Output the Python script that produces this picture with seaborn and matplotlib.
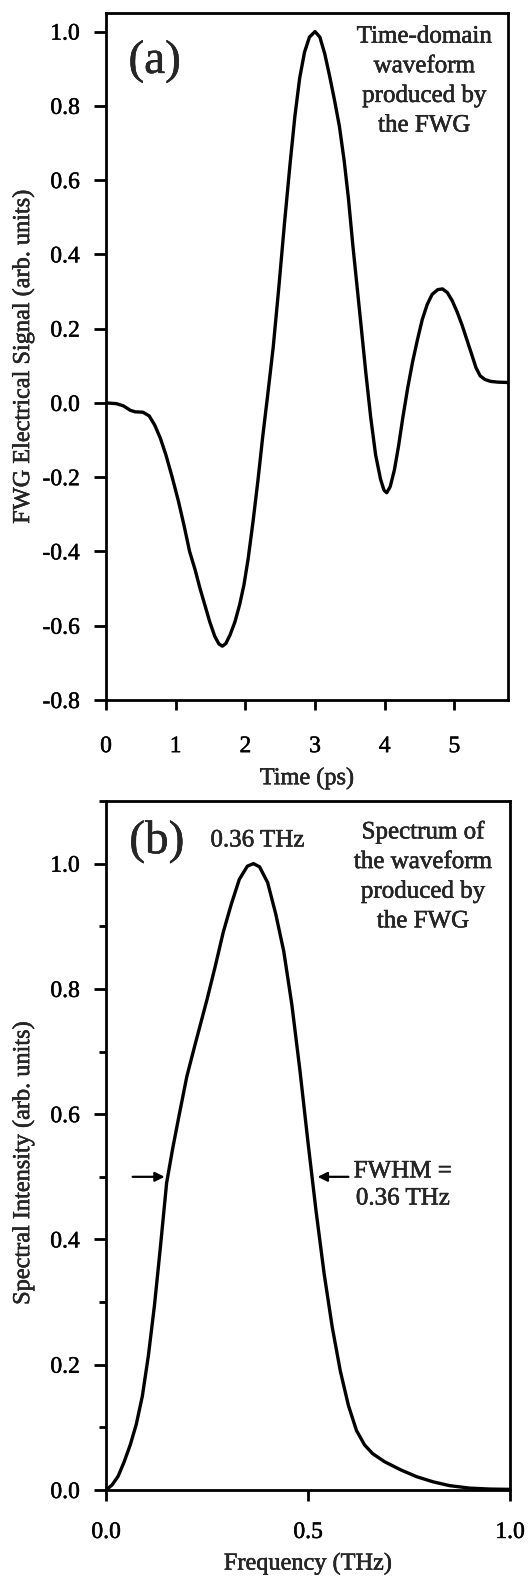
import matplotlib
matplotlib.use("Agg")
import matplotlib.pyplot as plt
import matplotlib.patheffects as pe
from matplotlib.text import Text
import seaborn as sns
import pandas as pd
from matplotlib.ticker import MultipleLocator, FormatStrFormatter

# (a) time-domain waveform produced by the FWG
time_ps = [0.0, 0.15, 0.25, 0.35, 0.42, 0.53, 0.62, 0.70, 0.78, 0.86, 0.95, 1.04,
           1.12, 1.20, 1.28, 1.35, 1.42, 1.49, 1.56, 1.62, 1.67, 1.72, 1.78, 1.85,
           1.92, 1.98, 2.04, 2.11, 2.18, 2.25, 2.32, 2.40, 2.48, 2.56, 2.64, 2.71,
           2.78, 2.85, 2.92, 3.0, 3.07, 3.14, 3.21, 3.28, 3.35, 3.42, 3.48, 3.54,
           3.60, 3.66, 3.73, 3.80, 3.87, 3.94, 3.99, 4.03, 4.08, 4.14, 4.20, 4.26,
           4.33, 4.40, 4.47, 4.54, 4.61, 4.68, 4.76, 4.83, 4.90, 4.97, 5.04, 5.11,
           5.18, 5.25, 5.31, 5.37, 5.44, 5.52, 5.62, 5.77]
signal = [0.0, -0.002, -0.008, -0.02, -0.024, -0.025, -0.035, -0.06, -0.095, -0.14,
          -0.20, -0.265, -0.33, -0.40, -0.45, -0.50, -0.545, -0.59, -0.628, -0.649,
          -0.655, -0.648, -0.625, -0.59, -0.542, -0.49, -0.42, -0.32, -0.21, -0.09,
          0.02, 0.15, 0.31, 0.48, 0.64, 0.77, 0.875, 0.945, 0.985, 1.0, 0.985, 0.94,
          0.88, 0.815, 0.745, 0.65, 0.55, 0.43, 0.32, 0.21, 0.08, -0.04, -0.14,
          -0.205, -0.235, -0.242, -0.225, -0.18, -0.115, -0.04, 0.04, 0.11, 0.17,
          0.225, 0.265, 0.292, 0.305, 0.307, 0.297, 0.275, 0.245, 0.21, 0.17, 0.13,
          0.095, 0.073, 0.063, 0.058, 0.056, 0.055]

# (b) spectrum of the waveform
freq_thz = [0.0, 0.015, 0.03, 0.045, 0.06, 0.075, 0.09, 0.105, 0.12, 0.135, 0.15,
            0.165, 0.18, 0.20, 0.22, 0.25, 0.27, 0.29, 0.31, 0.33, 0.35, 0.365,
            0.38, 0.40, 0.42, 0.44, 0.46, 0.48, 0.50, 0.52, 0.54, 0.56, 0.58, 0.60,
            0.62, 0.64, 0.66, 0.69, 0.73, 0.77, 0.81, 0.85, 0.90, 0.95, 1.0]
intensity = [0.0, 0.008, 0.022, 0.045, 0.072, 0.105, 0.15, 0.215, 0.295, 0.39,
             0.49, 0.545, 0.595, 0.66, 0.71, 0.783, 0.835, 0.89, 0.935, 0.975,
             0.996, 1.0, 0.995, 0.97, 0.92, 0.86, 0.775, 0.67, 0.555, 0.445, 0.345,
             0.26, 0.19, 0.135, 0.095, 0.072, 0.058, 0.045, 0.032, 0.021, 0.013,
             0.007, 0.003, 0.0015, 0.001]

peak_label = "0.36 THz"
fwhm_low, fwhm_high, half_max = 0.15, 0.51, 0.5

sns.set_theme(style="ticks")
plt.rcParams["font.family"] = ["Liberation Serif", "DejaVu Serif"]
plt.rcParams["axes.linewidth"] = 2.0

W, H = 529, 1582
fig = plt.figure(figsize=(W / 100, H / 100), dpi=100)
ax_a = fig.add_axes([106 / W, 1 - 700 / H, 402 / W, 687 / H])
ax_b = fig.add_axes([106 / W, 1 - 1490 / H, 404 / W, 689 / H])

df_a = pd.DataFrame({"t": time_ps, "s": signal})
df_b = pd.DataFrame({"f": freq_thz, "i": intensity})

sns.lineplot(data=df_a, x="t", y="s", ax=ax_a, color="black", lw=2.4,
             sort=False, estimator=None)
sns.lineplot(data=df_b, x="f", y="i", ax=ax_b, color="black", lw=2.4,
             sort=False, estimator=None)

tick_fs = 17
lab_fs = 17.5
txt_fs = 18

for ax in (ax_a, ax_b):
    for s in ax.spines.values():
        s.set_color("black")
        s.set_linewidth(2.0)
    ax.tick_params(axis="both", which="major", direction="out", width=2.0,
                   color="black", labelsize=tick_fs, labelcolor="black")
    ax.tick_params(axis="y", which="major", length=9, pad=10)
    ax.tick_params(axis="x", which="major", length=7)
    ax.set_facecolor("white")

# panel (a) axes
ax_a.set_xlim(0, 5.77)
ax_a.set_ylim(-0.8, 1.05)
ax_a.xaxis.set_major_locator(MultipleLocator(1))
ax_a.yaxis.set_major_locator(MultipleLocator(0.2))
ax_a.yaxis.set_major_formatter(FormatStrFormatter("%.1f"))
ax_a.tick_params(axis="x", pad=19)
ax_a.set_xlabel("Time (ps)", fontsize=lab_fs)
ax_a.set_ylabel("FWG Electrical Signal (arb. units)", fontsize=lab_fs)
ax_a.xaxis.set_label_coords(0.5, -0.099)
ax_a.yaxis.set_label_coords(-0.179, 0.5)
ax_a.text(0.70, 0.919, "(a)", fontsize=34, ha="center", va="center")
ax_a.text(4.57, 1.016, "Time-domain\nwaveform\nproduced by\nthe FWG",
          fontsize=txt_fs, ha="center", va="top", linespacing=1.45)

# panel (b) axes
ax_b.set_xlim(0, 1.0)
ax_b.set_ylim(0, 1.1)
ax_b.xaxis.set_major_locator(MultipleLocator(0.5))
ax_b.xaxis.set_major_formatter(FormatStrFormatter("%.1f"))
ax_b.yaxis.set_major_locator(MultipleLocator(0.2))
ax_b.yaxis.set_minor_locator(MultipleLocator(0.1))
ax_b.yaxis.set_major_formatter(FormatStrFormatter("%.1f"))
ax_b.tick_params(axis="y", which="minor", direction="out", length=5, width=2.0,
                 color="black")
ax_b.tick_params(axis="x", which="major", length=8, pad=15)
ax_b.set_xlabel("Frequency (THz)", fontsize=lab_fs)
ax_b.set_ylabel("Spectral Intensity (arb. units)", fontsize=lab_fs)
ax_b.xaxis.set_label_coords(0.5, -0.092)
ax_b.yaxis.set_label_coords(-0.178, 0.475)
ax_b.text(0.126, 1.035, "(b)", fontsize=34, ha="center", va="center")
ax_b.text(0.375, 1.037, peak_label, fontsize=txt_fs, ha="center", va="center")
ax_b.text(0.785, 1.069, "Spectrum of\nthe waveform\nproduced by\nthe FWG",
          fontsize=txt_fs, ha="center", va="top", linespacing=1.45)
ax_b.text(0.735, 0.487, "FWHM =\n" + peak_label, fontsize=txt_fs,
          ha="center", va="center", linespacing=1.3)

arrow_kw = dict(arrowstyle="-|>", color="black", lw=1.6, mutation_scale=14,
                shrinkA=0, shrinkB=0)
ax_b.annotate("", xy=(fwhm_low - 0.005, half_max), xytext=(0.066, half_max),
              arrowprops=arrow_kw)
ax_b.annotate("", xy=(fwhm_high + 0.014, half_max), xytext=(0.60, half_max),
              arrowprops=arrow_kw)

# slightly heavier glyphs, like a printed figure
for t in fig.findobj(Text):
    t.set_path_effects([pe.withStroke(linewidth=0.35, foreground="black")])

fig.savefig("out.png", dpi=100, facecolor="white")
